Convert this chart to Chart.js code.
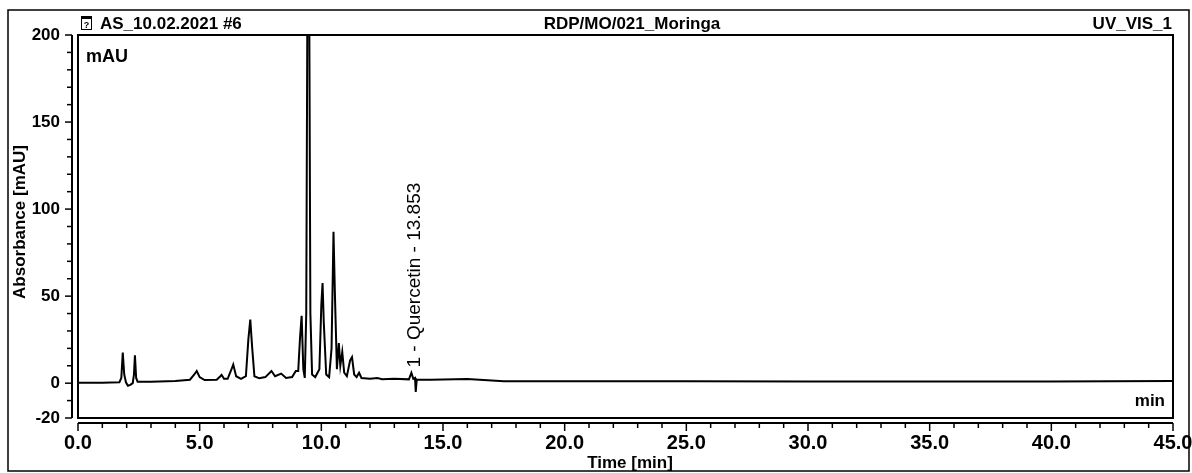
<!DOCTYPE html>
<html><head><meta charset="utf-8">
<script src="https://cdn.jsdelivr.net/npm/chart.js@4.4.1/dist/chart.umd.min.js"></script>
<style>html,body{margin:0;padding:0;background:#fff;}#wrap{width:1192px;height:473px;position:relative;}</style>
</head><body><div id="wrap"><canvas id="c" width="1192" height="473"></canvas></div>
<script>
// ---- data ----
const timeMin = [0.0,1.0,1.7,1.78,1.84,1.90,1.97,2.05,2.15,2.25,2.30,2.34,2.39,2.45,3.0,4.0,4.6,4.78,4.88,5.0,5.2,5.7,5.85,5.9,6.0,6.15,6.28,6.38,6.5,6.7,6.9,7.0,7.08,7.16,7.25,7.45,7.7,7.95,8.1,8.35,8.55,8.8,8.95,9.05,9.12,9.19,9.26,9.32,9.38,9.43,9.50,9.55,9.62,9.75,9.92,10.0,10.05,10.1,10.2,10.32,10.42,10.5,10.56,10.64,10.72,10.78,10.86,10.94,11.05,11.18,11.26,11.35,11.45,11.55,11.65,12.0,12.3,12.5,13.0,13.6,13.7,13.78,13.85,13.88,13.92,14.5,15.5,16.0,16.5,17.5,20,25,30,35,40,45];
const absorbance = [0.2,0.3,0.5,3,17.6,5,0.5,-1.5,-1.0,0,5,16,3,0.8,0.8,1.2,2,5,7,3.5,1.8,2,4,4.8,2.5,2.5,7,10.7,4,2.5,4,25,36.5,20,4,2.8,3.5,7,4,5.5,3,3.5,7,7,25,38.7,8,3,40,230,230,40,5,3.5,8,45,57.5,35,5,3.5,20,87,50,8,23,10,18,6,4,13,15,5,3.5,6,3,2.5,3,2.3,2.5,2.2,6,2.5,3,-5,2,2,2.3,2.4,2.0,1.1,1.1,1.1,1.0,1.0,1.0,1.2];
const xTickValues = [0,5,10,15,20,25,30,35,40,45];
const yTickValues = [200,150,100,50,0,-20];
const headerLeft = 'AS_10.02.2021 #6';
const headerCenter = 'RDP/MO/021_Moringa';
const headerRight = 'UV_VIS_1';
const peakLabel = '1 - Quercetin - 13.853';
const peakTime = 13.853;
const peakLabelValue = 9;

const FONT = '"Liberation Sans", Arial, sans-serif';

const framePlugin = {
  id: 'frame',
  afterDraw(chart) {
    const ctx = chart.ctx, a = chart.chartArea;
    const xs = chart.scales.x, ys = chart.scales.y;
    ctx.save();
    ctx.strokeStyle = '#000'; ctx.fillStyle = '#000';
    // outer frame
    ctx.lineWidth = 1.5;
    ctx.strokeRect(8, 10, 1181, 461);
    // plot box
    ctx.lineWidth = 2;
    ctx.strokeRect(a.left, a.top, a.right - a.left, a.bottom - a.top);
    // y axis line + ticks
    const yAxX = a.left - 6;
    const yTop = ys.getPixelForValue(200), yBot = ys.getPixelForValue(-20);
    ctx.beginPath(); ctx.moveTo(yAxX, yTop); ctx.lineTo(yAxX, yBot); ctx.stroke();
    ctx.lineWidth = 1.5;
    for (let v = -20; v <= 200; v += 10) {
      const p = ys.getPixelForValue(v);
      const len = yTickValues.includes(v) ? 7 : 5;
      ctx.beginPath(); ctx.moveTo(yAxX - len, p); ctx.lineTo(yAxX, p); ctx.stroke();
    }
    // x axis line + ticks
    const xAxY = a.bottom + 5;
    ctx.lineWidth = 2;
    ctx.beginPath(); ctx.moveTo(xs.getPixelForValue(0), xAxY); ctx.lineTo(xs.getPixelForValue(45), xAxY); ctx.stroke();
    ctx.lineWidth = 1.5;
    for (let v = 0; v <= 45; v += 1) {
      const p = xs.getPixelForValue(v);
      const len = (v % 5 === 0) ? 8 : 5;
      ctx.beginPath(); ctx.moveTo(p, xAxY); ctx.lineTo(p, xAxY + len); ctx.stroke();
    }
    // headers
    ctx.font = 'bold 17px ' + FONT;
    ctx.textBaseline = 'alphabetic';
    ctx.textAlign = 'left';
    ctx.fillText(headerLeft, 100, 29);
    ctx.textAlign = 'center';
    ctx.fillText(headerCenter, 632, 29);
    ctx.textAlign = 'right';
    ctx.fillText(headerRight, 1172, 29);
    // small icon left of header
    ctx.lineWidth = 1;
    ctx.strokeRect(81.5, 16.5, 10, 13);
    ctx.fillRect(82, 16, 10, 3);
    ctx.font = 'bold 9px ' + FONT; ctx.textAlign = 'center';
    ctx.fillText('?', 86.5, 28);
    // unit labels inside plot
    ctx.font = 'bold 18px ' + FONT;
    ctx.textAlign = 'left';
    ctx.fillText('mAU', 86, 62);
    ctx.font = 'bold 17px ' + FONT;
    ctx.textAlign = 'right';
    ctx.fillText('min', 1165, 406);
    // axis titles
    ctx.font = 'bold 17px ' + FONT;
    ctx.textAlign = 'center';
    ctx.fillText('Time [min]', 630, 468);
    ctx.save();
    ctx.translate(25, 222); ctx.rotate(-Math.PI / 2);
    ctx.fillText('Absorbance [mAU]', 0, 0);
    ctx.restore();
    // peak annotation
    const px = xs.getPixelForValue(peakTime), py = ys.getPixelForValue(peakLabelValue);
    ctx.save();
    ctx.translate(px, py); ctx.rotate(-Math.PI / 2);
    ctx.font = '19px ' + FONT; ctx.textAlign = 'left'; ctx.textBaseline = 'middle';
    ctx.fillText(peakLabel, 0, 0);
    ctx.restore();
    ctx.restore();
  }
};

new Chart(document.getElementById('c'), {
  type: 'line',
  data: {
    datasets: [{
      data: timeMin.map((t, i) => ({x: t, y: absorbance[i]})),
      borderColor: '#000', borderWidth: 2, pointRadius: 0, tension: 0, fill: false
    }]
  },
  options: {
    responsive: false, animation: false,
    layout: {padding: {left: 0, top: 35, right: 19, bottom: 0}},
    plugins: {legend: {display: false}, tooltip: {enabled: false}, title: {display: false}},
    scales: {
      x: {
        type: 'linear', min: 0, max: 45,
        afterBuildTicks(s) { s.ticks = xTickValues.map(v => ({value: v})); },
        afterFit(s) { s.height = 55; s.paddingLeft = 0; s.paddingRight = 0; },
        ticks: {callback: v => Number(v).toFixed(1), color: '#000', font: {family: FONT, size: 20, weight: 'bold'}, padding: 13, maxRotation: 0, autoSkip: false},
        grid: {display: false, drawTicks: false}, border: {display: false}
      },
      y: {
        type: 'linear', min: -20, max: 200,
        afterBuildTicks(s) { s.ticks = yTickValues.map(v => ({value: v})); },
        afterFit(s) { s.width = 78; s.paddingTop = 0; s.paddingBottom = 0; },
        ticks: {callback: v => String(v), color: '#000', font: {family: FONT, size: 17, weight: 'bold'}, padding: 18, autoSkip: false},
        grid: {display: false, drawTicks: false}, border: {display: false}
      }
    }
  },
  plugins: [framePlugin]
});
</script></body></html>
